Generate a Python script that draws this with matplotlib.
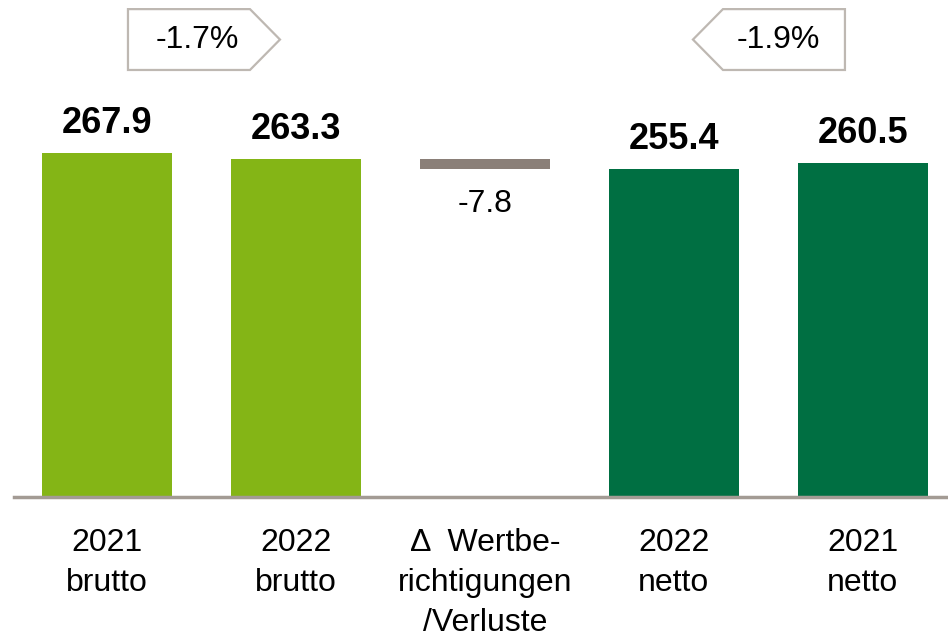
import numpy as np
import matplotlib.pyplot as plt
from matplotlib.patches import Polygon

# Daten
categories = ["2021\nbrutto", "2022\nbrutto", "\u0394  Wertbe-\nrichtigungen\n/Verluste",
              "2022\nnetto", "2021\nnetto"]
values = [267.9, 263.3, -7.8, 255.4, 260.5]
value_labels = ["267.9", "263.3", "-7.8", "255.4", "260.5"]
pct_left = "-1.7%"
pct_right = "-1.9%"

LIGHT_GREEN = "#84B516"
DARK_GREEN = "#006F42"
GREY_BAR = "#8A7F78"
BASE_GREY = "#A39B94"
BOX_GREY = "#BEB8B2"

plt.rcParams['font.family'] = ['Liberation Sans', 'DejaVu Sans']

fig = plt.figure(figsize=(9.48, 6.38), dpi=100)
ax = fig.add_axes([0, 141 / 638, 1, 497 / 638])
ax.set_xlim(-0.566, 4.450)
ax.set_ylim(0, 387.1)

x = np.arange(len(categories))
w = 0.688
colors = [LIGHT_GREEN, LIGHT_GREEN, GREY_BAR, DARK_GREEN, DARK_GREEN]

# Balken
for i, v in enumerate(values):
    if v < 0:
        ax.bar(x[i], v, bottom=values[1], width=w, color=colors[i], zorder=2)
    else:
        ax.bar(x[i], v, width=w, color=colors[i], zorder=2)

# Werte
for i, v in enumerate(values):
    if v < 0:
        ax.annotate(value_labels[i], (x[i], values[1] + v), xytext=(0, -31),
                    textcoords="offset points", ha="center", va="baseline",
                    fontsize=23, color="black")
    else:
        ax.annotate(value_labels[i], (x[i], v), xytext=(0, 14.4),
                    textcoords="offset points", ha="center", va="baseline",
                    fontsize=26, fontweight="bold", color="black")

# Grundlinie
ax.axhline(0, xmin=14 / 948, xmax=1, color=BASE_GREY, lw=2.5, clip_on=False, zorder=3)

# Pfeil-Boxen mit Veraenderung
y_top, y_bot = 380, 332.6
y_mid = (y_top + y_bot) / 2
px = 1 / 189.0  # Pixel in x-Dateneinheiten

l0 = x[0] + 21 * px
r0 = x[0] + 143 * px
tip0 = x[0] + 173 * px
ax.add_patch(Polygon([[l0, y_bot], [l0, y_top], [r0, y_top], [tip0, y_mid], [r0, y_bot]],
                     closed=True, fill=False, edgecolor=BOX_GREY, lw=1.6, zorder=4))
ax.text(x[0] + 90 * px, y_mid, pct_left, ha="center", va="center", fontsize=23)

tip1 = x[3] + 19 * px
l1 = x[3] + 49 * px
r1 = x[3] + 171 * px
ax.add_patch(Polygon([[tip1, y_mid], [l1, y_top], [r1, y_top], [r1, y_bot], [l1, y_bot]],
                     closed=True, fill=False, edgecolor=BOX_GREY, lw=1.6, zorder=4))
ax.text(x[3] + 104 * px, y_mid, pct_right, ha="center", va="center", fontsize=23)

# Achsen
ax.set_xticks(x)
ax.set_xticklabels(categories, fontsize=23, linespacing=1.45)
ax.tick_params(axis="x", length=0, pad=22)
ax.set_yticks([])
for s in ax.spines.values():
    s.set_visible(False)

plt.savefig("out.png", dpi=100)
